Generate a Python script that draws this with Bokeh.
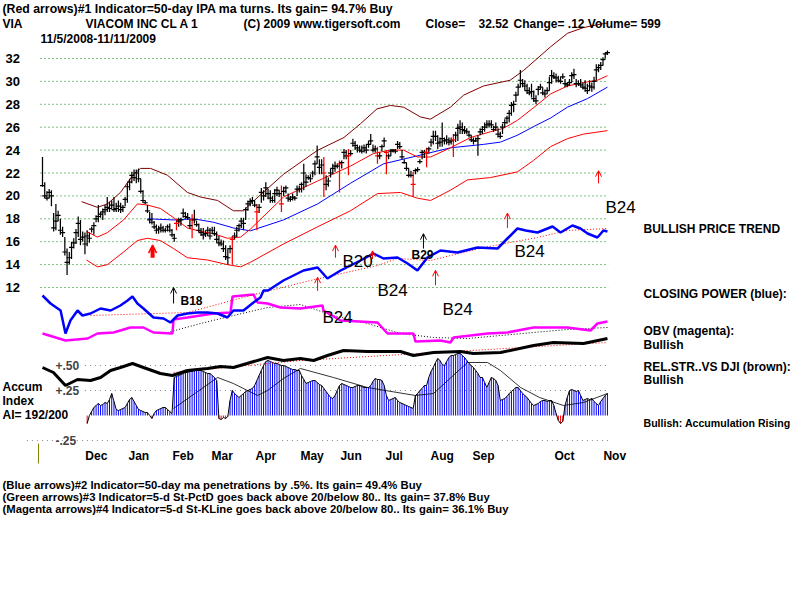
from bokeh.plotting import figure
from bokeh.models import Range1d, Label, Arrow, OpenHead
from bokeh.embed import file_html
from bokeh.resources import INLINE

# ---------------- DATA (trading-day index 0 = 11/5/2008 ... 253 = 11/11/2009) -------------
high = [23.4, 21.2, 20.4, 20.6, 20.5, 18.5, 19.3, 18.7, 18.0, 17.3,
        16.4, 15.4, 15.1, 16.0, 16.3, 17.1, 18.2, 17.9, 16.9, 16.8,
        17.0, 16.8, 17.3, 17.7, 18.3, 19.2, 18.6, 18.9, 19.2, 19.9,
        19.5, 19.6, 19.9, 19.4, 19.6, 19.4, 19.2, 19.9, 21.1, 21.5,
        22.1, 22.3, 22.3, 22.4, 21.5, 20.5, 19.6, 19.2, 18.6, 18.5,
        17.8, 17.5, 17.4, 17.6, 17.4, 17.2, 17.5, 17.6, 17.1, 16.7,
        18.0, 18.1, 18.1, 18.9, 18.6, 18.5, 18.0, 18.4, 18.8, 17.8,
        17.6, 17.2, 17.2, 17.0, 17.3, 17.2, 17.3, 17.3, 16.9, 16.5,
        16.2, 16.1, 15.7, 15.4, 15.7, 16.5, 16.8, 17.3, 17.6, 18.1,
        18.1, 19.0, 19.6, 19.8, 19.9, 19.6, 19.3, 19.3, 20.7, 20.5,
        21.2, 20.6, 20.5, 20.0, 20.6, 20.8, 20.5, 20.9, 20.8, 20.9,
        20.2, 20.0, 20.2, 20.0, 20.9, 20.9, 21.2, 22.8, 21.9, 21.8,
        21.9, 22.2, 23.1, 24.4, 23.2, 23.2, 23.4, 21.8, 21.6, 22.4,
        22.8, 23.0, 22.8, 23.1, 23.1, 24.1, 24.0, 24.1, 24.0, 25.0,
        24.8, 24.5, 24.4, 24.4, 24.5, 24.5, 24.8, 25.4, 24.5, 24.4,
        24.3, 23.8, 24.5, 25.1, 24.0, 23.7, 24.1, 24.1, 24.1, 24.8,
        24.7, 24.0, 23.2, 22.9, 22.4, 22.2, 22.1, 22.4, 22.5, 23.2,
        24.0, 24.0, 24.2, 24.3, 25.0, 25.7, 25.7, 25.3, 25.1, 26.4,
        25.1, 25.3, 25.1, 25.1, 25.4, 25.6, 26.3, 26.6, 26.4, 26.1,
        25.9, 25.7, 25.3, 25.1, 25.1, 25.3, 25.9, 26.1, 26.4, 26.6,
        26.6, 26.6, 26.1, 26.4, 25.9, 25.6, 26.3, 26.7, 27.0, 27.5,
        28.2, 28.3, 29.1, 29.8, 31.0, 30.2, 30.1, 29.8, 29.5, 29.8,
        29.2, 28.8, 29.6, 29.8, 29.5, 29.3, 29.5, 30.4, 31.0, 30.8,
        30.7, 30.5, 30.4, 30.7, 30.2, 29.9, 30.2, 30.8, 31.1, 30.2,
        30.1, 30.2, 29.9, 30.1, 29.8, 30.1, 29.9, 30.4, 31.5, 31.5,
        31.7, 32.1, 32.5, 32.7]
low = [20.8, 19.8, 19.6, 19.8, 19.1, 16.9, 17.0, 17.8, 16.6, 16.4,
       14.8, 13.1, 14.0, 14.5, 15.4, 15.8, 16.4, 15.7, 16.0, 14.9,
       15.6, 15.9, 16.8, 16.6, 17.7, 17.7, 18.1, 17.9, 18.3, 18.6,
       18.6, 18.9, 18.6, 18.6, 18.6, 18.5, 18.6, 19.1, 19.4, 20.5,
       21.1, 21.3, 21.1, 21.2, 20.2, 19.4, 19.3, 18.5, 17.6, 17.5,
       17.1, 16.7, 16.7, 16.8, 16.8, 16.8, 16.9, 16.8, 16.4, 16.0,
       17.0, 17.3, 17.4, 18.1, 18.0, 17.9, 17.1, 16.3, 17.6, 17.3,
       16.8, 16.5, 16.2, 16.4, 16.5, 16.2, 16.7, 16.5, 15.9, 15.6,
       15.6, 15.1, 14.4, 14.0, 15.0, 14.0, 16.2, 16.4, 16.9, 17.2,
       17.0, 17.9, 18.7, 19.1, 19.3, 19.0, 17.0, 18.5, 19.4, 19.6,
       19.9, 19.7, 19.4, 19.4, 19.4, 20.0, 19.9, 18.6, 20.0, 20.2,
       19.5, 19.5, 19.6, 19.6, 20.0, 20.3, 20.3, 20.5, 20.8, 21.4,
       21.2, 21.6, 21.8, 22.8, 21.9, 21.9, 19.9, 20.5, 20.8, 21.6,
       21.9, 22.1, 22.4, 20.3, 22.4, 23.2, 23.2, 21.8, 23.5, 24.3,
       24.0, 23.8, 23.8, 23.7, 23.8, 23.7, 24.2, 24.5, 23.8, 23.8,
       22.8, 23.2, 23.9, 24.3, 21.9, 23.2, 23.5, 23.8, 23.7, 24.1,
       24.1, 23.2, 22.8, 22.2, 21.6, 21.6, 19.9, 21.9, 22.1, 22.8,
       23.2, 23.3, 22.5, 23.7, 24.3, 24.5, 24.8, 24.1, 24.3, 24.3,
       24.5, 24.5, 24.4, 24.5, 23.4, 24.7, 24.8, 25.4, 25.4, 25.4,
       25.4, 25.1, 24.7, 24.5, 24.7, 23.5, 25.3, 25.4, 25.6, 25.9,
       26.0, 25.9, 25.6, 25.7, 25.1, 25.0, 25.4, 26.0, 26.3, 26.4,
       27.0, 27.3, 28.2, 28.8, 29.5, 29.5, 29.2, 28.9, 28.8, 28.6,
       28.2, 28.0, 28.8, 29.3, 28.8, 28.6, 28.9, 29.2, 29.8, 30.2,
       29.9, 29.9, 29.8, 30.2, 29.5, 29.5, 29.6, 29.9, 30.2, 29.5,
       29.6, 29.5, 29.3, 29.1, 28.9, 29.2, 29.1, 29.3, 30.1, 30.8,
       31.0, 31.4, 32.0, 32.3]
close = [20.9, 20.0, 19.8, 20.3, 20.0, 17.2, 17.8, 18.3, 17.0, 16.8,
         15.1, 14.2, 14.6, 15.5, 15.9, 16.8, 17.6, 16.2, 16.4, 15.8,
         16.5, 16.3, 17.1, 17.4, 18.0, 18.2, 18.4, 18.6, 18.8, 19.0,
         18.9, 19.2, 18.8, 18.9, 19.1, 18.8, 19.0, 19.7, 20.8, 21.2,
         21.8, 21.6, 22.0, 21.5, 20.4, 19.6, 19.4, 18.7, 17.9, 17.7,
         17.3, 17.0, 17.1, 17.2, 17.0, 17.0, 17.3, 17.0, 16.6, 16.3,
         17.6, 17.8, 17.9, 18.5, 18.2, 18.1, 17.4, 17.9, 17.9, 17.5,
         17.0, 16.8, 16.6, 16.7, 17.0, 16.5, 17.0, 16.7, 16.2, 15.9,
         15.8, 15.4, 14.7, 14.6, 15.4, 16.2, 16.5, 17.0, 17.4, 17.8,
         17.6, 18.8, 19.3, 19.5, 19.6, 19.2, 18.6, 19.0, 20.3, 20.0,
         20.7, 20.2, 19.8, 19.6, 20.2, 20.5, 20.2, 19.3, 20.4, 20.7,
         19.8, 19.7, 19.9, 19.8, 20.6, 20.6, 21.0, 22.0, 21.2, 21.6,
         21.5, 22.0, 22.8, 23.4, 22.5, 22.7, 22.0, 21.0, 21.3, 22.0,
         22.4, 22.6, 22.6, 22.8, 22.9, 23.8, 23.5, 23.5, 23.7, 24.6,
         24.4, 24.2, 24.0, 23.9, 24.2, 24.0, 24.5, 24.8, 24.0, 24.1,
         23.5, 23.5, 24.3, 24.8, 23.8, 23.5, 23.9, 24.0, 23.9, 24.5,
         24.3, 23.4, 22.9, 22.4, 21.8, 21.8, 21.0, 22.2, 22.3, 23.0,
         23.8, 23.8, 23.8, 24.1, 24.7, 25.2, 25.2, 24.6, 24.7, 25.0,
         24.8, 24.9, 24.7, 24.8, 24.9, 25.3, 25.9, 26.0, 25.8, 25.7,
         25.6, 25.3, 24.9, 24.8, 24.8, 25.0, 25.6, 25.8, 26.0, 26.2,
         26.3, 26.2, 25.8, 26.0, 25.4, 25.2, 26.0, 26.4, 26.8, 27.2,
         27.9, 28.0, 28.8, 29.5, 30.1, 29.8, 29.6, 29.2, 29.0, 29.1,
         28.5, 28.3, 29.3, 29.5, 29.0, 28.9, 29.2, 29.9, 30.5, 30.4,
         30.3, 30.1, 30.0, 30.4, 29.8, 29.7, 29.9, 30.5, 30.6, 29.8,
         29.8, 29.7, 29.5, 29.4, 29.2, 29.6, 29.5, 30.0, 31.0, 31.2,
         31.4, 31.9, 32.4, 32.52]
red_bar_days = [60, 67, 85, 96, 107, 126, 133, 137, 150, 154, 166, 172, 184]

# moving averages / bands
ma_short_day = [19.7, 24.6, 29.1, 36.3, 42.5, 47, 52.8, 58.7, 64.9, 70.8, 76.6, 82.8, 88.7, 93.1,
                107.9, 123.2, 137.9, 148.2, 155.8, 161.7, 167.9, 173.8, 182.7, 191.7, 200.6,
                206.4, 212.7, 219.9, 227.5, 235.1, 242.3, 248.5, 253]
ma_short_val = [16.9, 16.4, 16.8, 17.9, 19.3, 19.2, 18.9, 18.1, 17.2, 16.9, 16.7, 16.3, 16.4, 17.1,
                19.9, 21.3, 22.6, 23.7, 24.0, 24.0, 23.4, 23.4, 24.2, 25.1, 25.6,
                25.9, 26.6, 27.7, 28.9, 29.6, 29.9, 30.1, 30.5]
ma50_day = [47, 58.7, 67.6, 76.6, 85.5, 93.1, 107.9, 123.2, 137.9, 152.7, 167.9, 182.7, 197.5,
            205.1, 212.7, 219.9, 227.5, 235.1, 244.1, 253]
ma50_val = [18.0, 17.9, 18.0, 17.7, 17.2, 16.95, 17.9, 19.3, 21.1, 22.8, 23.5, 24.2, 24.5,
            24.7, 25.3, 26.05, 26.8, 27.75, 28.5, 29.5]
upper_day = [17.5, 24.6, 29.1, 34.9, 40.8, 43.9, 48.4, 56, 64.9, 70.8, 78.4, 85.5, 90, 93.1,
             108, 123, 135, 142.4, 149.8, 155.8, 161.7, 169.2, 173.7, 182.7, 188.6, 197.5,
             209.4, 215.4, 227.4, 235.1, 242.3, 249.9, 253]
upper_val = [19.5, 19.0, 19.3, 20.3, 21.9, 22.4, 22.4, 21.8, 20.3, 19.9, 19.6, 18.7, 18.7, 19.3,
             21.9, 23.96, 25.1, 26.3, 27.6, 27.9, 27.75, 26.9, 26.7, 27.75, 28.8, 29.6,
             30.1, 30.95, 33.0, 34.2, 34.7, 35.0, 35.1]
lower_day = [19.7, 24.6, 29.1, 36.3, 42.5, 47, 52.8, 58.7, 64.9, 73.9, 82.8, 88.7, 93.1, 107.9,
             123.2, 137.9, 150, 160.3, 167.9, 173.8, 182.7, 190.3, 200.6, 212.7, 219.9,
             227.5, 235.1, 242.3, 253]
lower_val = [14.4, 13.8, 14.0, 15.1, 16.1, 16.3, 16.1, 15.4, 14.6, 14.4, 14.0, 13.8, 14.2, 15.8,
             17.3, 18.7, 20.2, 20.3, 19.8, 19.6, 20.5, 21.4, 21.6, 22.1, 23.1,
             24.3, 25.0, 25.4, 25.7]

# closing power (blue) and its trend (red dotted), relative units
cp_day = [0, 3.6, 8.1, 10.3, 12.5, 15.7, 17.9, 21.5, 26, 30.5, 34.9, 38.1, 40.3, 42.5, 45.2,
          49.7, 54.2, 57.3, 60.5, 64.9, 69.4, 73.9, 78.4, 82.8, 85.5, 90, 94.5, 97.6, 99,
          101, 107.9, 116.9, 123.2, 127.6, 133.5, 142.4, 148.2, 152.7, 159, 163.5, 167.9,
          172.4, 178.2, 185.8, 194.8, 203.8, 208.2, 212.7, 216.4, 221.7, 228.4, 232, 237.3,
          240.9, 244.1, 248.5, 251.2, 253]
cp_val = [45, 37, 30, 7, 20, 30, 25, 27, 32, 30, 35, 40, 44, 37, 32,
          23, 22, 18, 25, 27, 28, 28, 27, 23, 30, 30, 38, 43, 50,
          50, 60, 70, 73, 62, 70, 80, 87, 82, 83, 77, 70,
          83, 90, 88, 93, 92, 102, 112, 110, 108, 114, 108, 115,
          112, 107, 103, 110, 109]
cp_trend_day = [21.5, 64.9, 93.1, 120, 150, 159, 173.8, 197.5, 221.7, 235.1, 253]
cp_trend_val = [25, 28, 45, 60, 75, 82, 80, 93, 103, 110, 112]

# OBV (magenta) and its average (black dotted)
obv_day = [0, 10.3, 20.2, 24.6, 31.8, 39.4, 45.2, 49.7, 58.2, 58.7, 64.9, 76.6, 84.2, 85.1, 94.5,
           96.3, 100.8, 106.6, 115.5, 125.4, 125.8, 133.5, 150, 154.5, 166.1, 167, 178.2,
           182.7, 184.1, 199.3, 208.2, 219.9, 235.1, 245.4, 248.5, 253]
obv_val = [12, 5, 7, 12, 13, 18, 18, 13, 12, 26, 28, 32, 33, 49, 51,
           43, 42, 38, 37, 40, 35, 25, 23, 12, 12, 4, 5,
           3, 8, 12, 13, 18, 18, 15, 22, 24]
obv_avg_day = [56, 70.8, 85.5, 100.8, 115.5, 130.3, 145.5, 160.3, 175.1, 190.3, 205.1, 219.9, 235.1, 253]
obv_avg_val = [13, 22, 30, 38, 41, 30, 22, 12, 8, 7, 10, 13, 16, 18]

# relative strength vs DJI (brown/black) and its average (red dotted)
rs_day = [0, 4.9, 10.3, 15.7, 21.5, 26, 30.5, 34.9, 40.3, 45.2, 52.8, 58.2, 64.9, 73.9, 79.7,
          85.5, 93.1, 100.8, 107.9, 115.5, 121.4, 127.6, 134.8, 145.5, 160.3, 166.1, 175.1,
          187.2, 193, 205.1, 219.9, 228.8, 242.3, 253]
rs_val = [23, 18, 5, 11, 10, 13, 20, 23, 27, 23, 17, 15, 20, 22, 24,
          23, 28, 33, 30, 32, 30, 35, 40, 39, 39, 35, 38,
          39, 37, 38, 45, 48, 47, 52]
rs_avg_day = [58.7, 115.5, 253]
rs_avg_val = [18, 30, 48]

# accumulation index (daily, from day 20)
ai_first_day = 20
ai_val = [-0.08, 0.0, 0.04, 0.08, 0.10, 0.12, 0.10, 0.11, 0.13, 0.12,
          0.16, 0.22, 0.14, 0.06, 0.05, 0.06, 0.07, 0.08, 0.12, 0.16,
          0.18, 0.14, 0.10, 0.06, 0.05, 0.04, 0.03, 0.03, 0.0, -0.03,
          0.02, 0.05, 0.06, 0.07, 0.08, 0.08, 0.06, 0.04, 0.02, 0.38,
          0.39, 0.40, 0.41, 0.42, 0.43, 0.43, 0.44, 0.44, 0.45, 0.45,
          0.45, 0.45, 0.44, 0.43, 0.42, 0.42, 0.40, 0.38, 0.35, -0.03,
          -0.04, -0.02, -0.03, -0.01, 0.15, 0.25, 0.22, 0.20, 0.18, 0.20,
          0.22, 0.24, 0.25, 0.26, 0.27, 0.30, 0.35, 0.40, 0.45, 0.50,
          0.54, 0.55, 0.54, 0.53, 0.52, 0.52, 0.51, 0.50, 0.50, 0.49,
          0.48, 0.47, 0.46, 0.46, 0.45, 0.45, 0.40, 0.36, 0.32, 0.33,
          0.34, 0.35, 0.35, 0.33, 0.31, 0.30, 0.27, 0.24, 0.21, 0.18,
          0.17, 0.20, 0.25, 0.30, 0.32, 0.31, 0.30, 0.29, 0.28, 0.28,
          0.29, 0.30, 0.30, 0.29, 0.28, 0.28, 0.28, 0.30, 0.34, 0.37,
          0.36, 0.36, 0.35, 0.30, 0.20, 0.15, 0.16, 0.17, 0.18, 0.15,
          0.13, 0.12, 0.11, 0.10, 0.09, 0.08, 0.07, 0.20, 0.22, 0.25,
          0.27, 0.30, 0.30, 0.38, 0.44, 0.48, 0.53, 0.57, 0.55, 0.51,
          0.50, 0.54, 0.58, 0.60, 0.60, 0.61, 0.62, 0.62, 0.60, 0.58,
          0.55, 0.52, 0.50, 0.48, 0.45, 0.42, 0.38, 0.38, 0.33, 0.28,
          0.33, 0.38, 0.37, 0.35, 0.30, 0.15, 0.16, 0.17, 0.19, 0.22,
          0.24, 0.26, 0.28, 0.28, 0.25, 0.22, 0.20, 0.18, 0.15, 0.12,
          0.10, 0.11, 0.12, 0.14, 0.15, 0.15, 0.14, 0.15, 0.15, 0.10,
          0.02, -0.05, -0.08, -0.06, 0.10, 0.18, 0.25, 0.26, 0.25, 0.24,
          0.25, 0.20, 0.15, 0.16, 0.17, 0.16, 0.17, 0.14, 0.12, 0.10,
          0.14, 0.17, 0.20, 0.22]
ai_avg_day = [58.7, 78.4, 85.5, 96.3, 100.8, 107.9, 115.5, 130.3, 145.5, 167, 175.1, 190.3,
              199.3, 205.1, 214.1, 222.6, 233.3, 242.3, 253]
ai_avg_val = [0.07, 0.38, 0.32, 0.2, 0.25, 0.37, 0.47, 0.38, 0.28, 0.2, 0.22, 0.53,
              0.53, 0.45, 0.28, 0.18, 0.1, 0.13, 0.22]
ai_levels = [0.50, 0.25, -0.25]
ai_level_text = ["+.50", "+.25", "-.25"]

price_ticks = [12, 14, 16, 18, 20, 22, 24, 26, 28, 30, 32]
month_labels = ["Dec", "Jan", "Feb", "Mar", "Apr", "May", "Jun", "Jul", "Aug", "Sep", "Oct", "Nov"]
month_pos = [19.2, 38.5, 58.2, 75.7, 95.4, 115.5, 133.4, 153.6, 173.8, 192.6, 229.3, 251.2]

# signal arrows: (day, from price, to price)
red_arrow_day = [123.2, 131.2, 147.8, 176.0, 208.2, 249.0]
red_arrow_from = [11.7, 14.6, 14.5, 12.2, 17.2, 21.1]
red_arrow_to = [12.9, 15.7, 15.2, 13.5, 18.5, 22.2]
black_arrow_day = [58.7, 170.6]
black_arrow_from = [10.6, 15.4]
black_arrow_to = [12.0, 16.7]
double_arrow_day = 49.3
double_arrow_from, double_arrow_to = 14.6, 15.7

# ---------------- FIGURE -------------
W, H = 800, 600
PX0, PXD = 42.0, 2.233          # pixel of day 0 and pixels per day
PY32, PYU = 58.0, 11.45         # pixel row of price 32 and pixels per price unit

p = figure(width=W, height=H, output_backend="svg", toolbar_location=None,
           x_range=Range1d(-PX0 / PXD, (W - PX0) / PXD),
           y_range=Range1d(32 - (H - PY32) / PYU, 32 + PY32 / PYU),
           x_axis_location=None, y_axis_location=None, min_border=0)
p.grid.visible = False
p.outline_line_color = None
p.background_fill_color = "white"
p.border_fill_color = "white"
p.extra_y_ranges = {
    "ai": Range1d(-1.85, 4.15),
    "cp": Range1d(-260, 340),
    "obv": Range1d(-255, 345),
    "rs": Range1d(-210, 390),
}

days = list(range(len(close)))
n = len(days)

# price grid
for t in price_ticks:
    p.line([-0.9, 253.5], [t, t], line_color="#008000", line_dash="1 3", line_width=1)
# AI grid
for lv in ai_levels:
    x0 = 19.0 if lv > 0 else -7.0
    p.line([x0, 253.5], [lv, lv], line_color="#888888", line_dash="1 4", line_width=1, y_range_name="ai")

# accumulation histogram
ai_days = [ai_first_day + k for k in range(len(ai_val))]
ai_cols = ["#0000ff" if v >= 0 else "#ff0000" for v in ai_val]
p.vbar(x=ai_days, top=ai_val, bottom=0, width=0.45, fill_color=ai_cols, line_color=None,
       y_range_name="ai")
p.line(ai_days, ai_val, line_color="black", line_width=1, y_range_name="ai")
p.line(ai_avg_day, ai_avg_val, line_color="black", line_width=0.8, y_range_name="ai")
p.line([-1.8, -1.8], [-0.28, -0.48], line_color="#808000", line_width=1, y_range_name="ai")

# relative strength
p.line(rs_avg_day, rs_avg_val, line_color="#ff0000", line_dash="1 2", line_width=1, y_range_name="rs")
p.line(rs_day, rs_val, line_color="black", line_width=3, y_range_name="rs")

# OBV
p.line(obv_avg_day, obv_avg_val, line_color="black", line_dash="1 2", line_width=1, y_range_name="obv")
p.line(obv_day, obv_val, line_color="#ff00ff", line_width=2.5, y_range_name="obv")

# closing power
p.line(cp_trend_day, cp_trend_val, line_color="#ff0000", line_dash="1 2", line_width=1, y_range_name="cp")
p.line(cp_day, cp_val, line_color="#0000ff", line_width=2.5, y_range_name="cp")

# bands and moving averages
p.line(upper_day, upper_val, line_color="#800000", line_width=1)
p.line(lower_day, lower_val, line_color="#ff0000", line_width=1)
p.line(ma50_day, ma50_val, line_color="#0000ff", line_width=1)
p.line(ma_short_day, ma_short_val, line_color="#ff0000", line_width=1)

# price bars
bar_cols = ["#ff0000" if d in red_bar_days else "black" for d in days]
p.segment(x0=days, y0=low[:n], x1=days, y1=high[:n], line_color=bar_cols, line_width=1.25)
p.scatter(days, close[:n], marker="dash", size=5, line_color=bar_cols, line_width=1.2)

# arrows
for d, a, b in zip(red_arrow_day, red_arrow_from, red_arrow_to):
    p.add_layout(Arrow(end=OpenHead(size=6, line_color="#ff0000", line_width=1),
                       x_start=d, y_start=a, x_end=d, y_end=b, line_color="#ff0000", line_width=1))
for d, a, b in zip(black_arrow_day, black_arrow_from, black_arrow_to):
    p.add_layout(Arrow(end=OpenHead(size=6, line_color="black", line_width=1),
                       x_start=d, y_start=a, x_end=d, y_end=b, line_color="black", line_width=1))
p.add_layout(Arrow(end=OpenHead(size=8, line_color="#ff0000", line_width=1.5),
                   x_start=double_arrow_day, y_start=double_arrow_from,
                   x_end=double_arrow_day, y_end=double_arrow_to, line_color="#ff0000", line_width=4))
p.line([double_arrow_day, double_arrow_day], [double_arrow_from, double_arrow_to - 0.25],
       line_color="white", line_width=1.3)

FONT = "Liberation Sans"


def txt(x, y, s, size=12, bold=True, color="black", xu="screen", yu="screen", align="left"):
    p.add_layout(Label(x=x, y=y if yu == "data" else H - y, x_units=xu, y_units=yu, text=s,
                       text_font=FONT, text_font_size=f"{size}px",
                       text_font_style="bold" if bold else "normal", text_color=color,
                       text_baseline="middle", text_align=align))


# header
txt(2, 8, "(Red arrows)#1 Indicator=50-day IPA ma turns. Its gain= 94.7% Buy", size=12.3)
txt(2, 23, "VIA")
txt(85, 23, "VIACOM INC CL A 1")
txt(243, 23, "(C) 2009 www.tigersoft.com")
txt(425, 23, "Close=")
txt(478, 23, "32.52")
txt(513, 23, "Change= .12 Volume= 599")
txt(40, 38, "11/5/2008-11/11/2009")

# price axis labels
for t in price_ticks:
    txt(5, t, str(t), size=13, yu="data")
# AI labels
for lv, s in zip(ai_levels, ai_level_text):
    p.add_layout(Label(x=55, y=lv, x_units="screen", y_units="data", y_range_name="ai", text=s,
                       text_font=FONT, text_font_size="12px", text_font_style="bold",
                       text_baseline="middle"))
txt(2, 386, "Accum")
txt(2, 400, "Index")
txt(2, 414, "AI= 192/200")
# months
for pos, m in zip(month_pos, month_labels):
    txt(pos, 455, m, xu="data")

# right side
txt(643, 228, "BULLISH PRICE TREND")
txt(643, 293, "CLOSING POWER (blue):")
txt(643, 330, "OBV (magenta):")
txt(643, 344, "Bullish")
txt(643, 366, "REL.STR..VS DJI (brown):")
txt(643, 379, "Bullish")
txt(643, 422, "Bullish: Accumulation Rising", size=10.6)

# signal tags
txt(605, 207, "B24", size=17, bold=False)
txt(342, 261, "B20", size=17, bold=False)
txt(377, 290, "B24", size=17, bold=False)
txt(322, 317, "B24", size=17, bold=False)
txt(442, 309, "B24", size=17, bold=False)
txt(514, 251, "B24", size=17, bold=False)
txt(411, 254, "B29", size=12)
txt(180, 300, "B18", size=12)

# footer
txt(2, 484, "(Blue arrows)#2 Indicator=50-day ma penetrations by .5%. Its gain= 49.4% Buy", size=11.3)
txt(2, 496, "(Green arrows)#3 Indicator=5-d St-PctD goes back above 20/below 80.. Its gain= 37.8% Buy", size=11.3)
txt(2, 508, "(Magenta arrows)#4 Indicator=5-d St-KLine goes back above 20/below 80.. Its gain= 36.1% Buy", size=11.3)

open("out.html", "w").write(file_html(p, INLINE))
